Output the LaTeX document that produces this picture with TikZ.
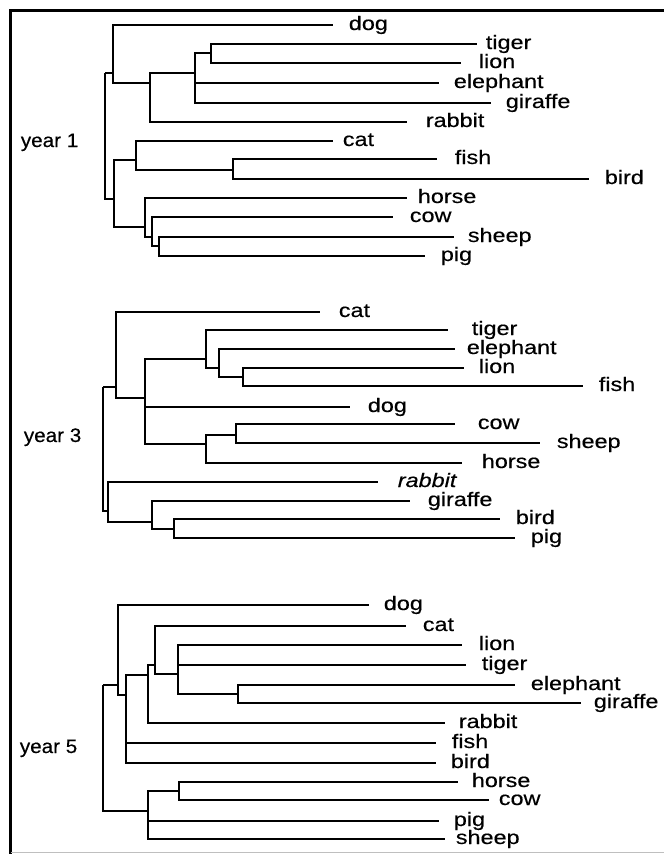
\documentclass[tikz,border=0pt]{standalone}
\usepackage{fontspec}
\setmainfont{Liberation Sans}[FakeStretch=1.2,FakeBold=0.4]
\newfontfamily\yearfont{Liberation Sans}[FakeStretch=1.06,FakeBold=0.4]
% leaf: line end, height, label start
\newcommand\leaf[5]{%
  \coordinate (#1) at (#3,#2);
  \node[lab] (#1t) at (#4,#2+5) {#5};}
\begin{document}
\begin{tikzpicture}[x=1pt,y=-1pt,line width=1.7pt,
  lab/.style={anchor=base west,inner sep=0pt,font=\fontsize{19.5}{19.5}\selectfont},
  yr/.style={anchor=base west,inner sep=0pt,font=\yearfont\fontsize{19.5}{19.5}\selectfont}]
\useasboundingbox (0,0) rectangle (664,854);
% frame
\draw[line width=3pt] (10.5,854) -- (10.5,10.5) -- (664,10.5);
\draw[line width=0.8pt,black!25] (10.5,852) -- (664,852);

% year 1
\node[yr] (y1) at (20,147) {year 1};
\leaf{dog1}{25}{333}{348}{dog}
\leaf{tiger1}{44}{477}{485}{tiger}
\leaf{lion1}{63}{461}{478}{lion}
\leaf{elephant1}{83}{439}{453}{elephant}
\leaf{giraffe1}{103}{491}{505}{giraffe}
\leaf{rabbit1}{122}{407}{425}{rabbit}
\leaf{cat1}{141}{333}{342}{cat}
\leaf{fish1}{159}{437}{454}{fish}
\leaf{bird1}{179}{589}{604}{bird}
\leaf{horse1}{198}{407}{417}{horse}
\leaf{cow1}{217}{393}{409}{cow}
\leaf{sheep1}{237}{454}{467}{sheep}
\leaf{pig1}{256}{425}{440}{pig}
\coordinate (r1) at (105,73);
\coordinate (t1) at (113,73);
\coordinate (k1) at (150,83);
\coordinate (e1) at (195,73);
\coordinate (w1) at (211,53);
\coordinate (b1) at (114,199);
\coordinate (c1) at (136,160);
\coordinate (f1) at (233,170);
\coordinate (h1) at (145,227);
\coordinate (m1) at (152,237);
\coordinate (s1) at (159,246);
\foreach \p/\c in {r1/t1,r1/b1,t1/dog1,t1/k1,k1/e1,k1/rabbit1,e1/w1,e1/elephant1,
  e1/giraffe1,w1/tiger1,w1/lion1,b1/c1,b1/h1,c1/cat1,c1/f1,f1/fish1,f1/bird1,
  h1/horse1,h1/m1,m1/cow1,m1/s1,s1/sheep1,s1/pig1}
  \draw (\p) |- (\c);

% year 3
\node[yr] (y3) at (23,442) {year 3};
\leaf{cat3}{312}{320}{338}{cat}
\leaf{tiger3}{330}{448}{471}{tiger}
\leaf{elephant3}{349}{455}{466}{elephant}
\leaf{lion3}{368}{464}{478}{lion}
\leaf{fish3}{386}{583}{598}{fish}
\leaf{dog3}{407}{350}{367}{dog}
\leaf{cow3}{424}{455}{477}{cow}
\leaf{sheep3}{443}{540}{556}{sheep}
\leaf{horse3}{463}{462}{481}{horse}
\leaf{rabbit3}{482}{378}{397}{\itshape rabbit}
\leaf{giraffe3}{501}{410}{427}{giraffe}
\leaf{bird3}{519}{500}{515}{bird}
\leaf{pig3}{538}{515}{530}{pig}
\coordinate (r3) at (103,387);
\coordinate (t3) at (116,387);
\coordinate (g3) at (145,398);
\coordinate (q3) at (206,359);
\coordinate (e3) at (219,368);
\coordinate (l3) at (243,377);
\coordinate (n3) at (206,444);
\coordinate (o3) at (236,435);
\coordinate (b3) at (108,511);
\coordinate (p3) at (152,522);
\coordinate (u3) at (174,529);
\foreach \p/\c in {r3/t3,r3/b3,t3/cat3,t3/g3,g3/q3,g3/dog3,g3/n3,q3/tiger3,q3/e3,
  e3/elephant3,e3/l3,l3/lion3,l3/fish3,n3/o3,n3/horse3,o3/cow3,o3/sheep3,
  b3/rabbit3,b3/p3,p3/giraffe3,p3/u3,u3/bird3,u3/pig3}
  \draw (\p) |- (\c);

% year 5
\node[yr] (y5) at (19,753) {year 5};
\leaf{dog5}{605}{369}{383}{dog}
\leaf{cat5}{626}{406}{422}{cat}
\leaf{lion5}{645}{462}{478}{lion}
\leaf{tiger5}{665}{466}{481}{tiger}
\leaf{elephant5}{685}{515}{530}{elephant}
\leaf{giraffe5}{703}{581}{593}{giraffe}
\leaf{rabbit5}{723}{445}{458}{rabbit}
\leaf{fish5}{743}{436}{451}{fish}
\leaf{bird5}{763}{436}{450}{bird}
\leaf{horse5}{782}{458}{471}{horse}
\leaf{cow5}{800}{489}{498}{cow}
\leaf{pig5}{821}{439}{453}{pig}
\leaf{sheep5}{839}{445}{455}{sheep}
\coordinate (r5) at (103,685);
\coordinate (t5) at (118,685);
\coordinate (s5) at (126,695);
\coordinate (c5) at (148,675);
\coordinate (k5) at (155,665);
\coordinate (l5) at (178,674);
\coordinate (e5) at (238,694);
\coordinate (b5) at (148,811);
\coordinate (h5) at (179,791);
\foreach \p/\c in {r5/t5,r5/b5,t5/dog5,t5/s5,s5/c5,s5/fish5,s5/bird5,c5/k5,
  c5/rabbit5,k5/cat5,k5/l5,l5/lion5,l5/tiger5,l5/e5,e5/elephant5,e5/giraffe5,
  b5/h5,b5/pig5,b5/sheep5,h5/horse5,h5/cow5}
  \draw (\p) |- (\c);
\end{tikzpicture}
\end{document}
